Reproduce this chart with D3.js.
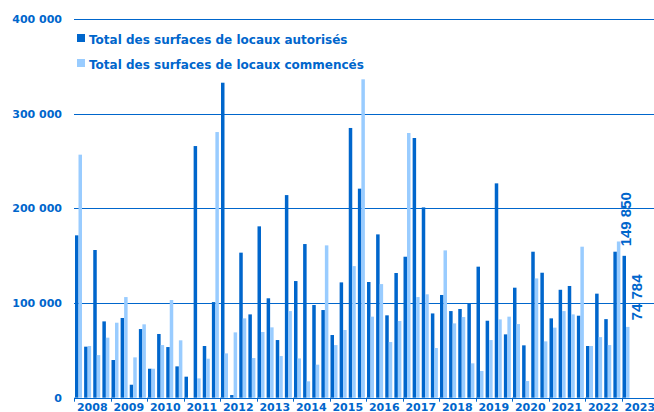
<!DOCTYPE html>
<html><head><meta charset="utf-8">
<script src="https://cdn.jsdelivr.net/npm/d3@7"></script>
<style>body{margin:0;background:#fff}svg{display:block}</style>
</head><body>
<script>
const years = ["2008","2009","2010","2011","2012","2013","2014","2015","2016","2017","2018","2019","2020","2021","2022","2023"];
const quartersPerYear = ["T1","T2","T3","T4"];
const autorises = [
 171500, 53900, 156000, 80600,
 39800, 84200, 13700, 72500,
 30600, 67300, 53500, 33100,
 22200, 265800, 54600, 101000,
 332700, 2800, 153200, 88000,
 181000, 105000, 60900, 214000,
 123200, 162300, 97900, 92600,
 66200, 121800, 284900, 220800,
 122200, 172500, 87000, 131700,
 148900, 274300, 201000, 89000,
 108500, 91500, 93700, 99600,
 138400, 81300, 226400, 66900,
 116200, 55300, 154200, 132000,
 83800, 114000, 118000, 86600,
 54600, 109900, 83000, 154200,
 149850];
const commences = [
 256700, 54600, 45000, 63400,
 79200, 106300, 42600, 77500,
 30600, 55600, 103200, 60600,
 0, 20400, 41200, 280600,
 46800, 69000, 83800, 41900,
 69400, 74300, 44000, 91500,
 41500, 17300, 34900, 160900,
 55600, 71500, 139000, 336300,
 85600, 120000, 58800, 81000,
 279600, 106300, 109200, 52500,
 155600, 78500, 85200, 36300,
 28200, 60900, 82700, 85600,
 77800, 17600, 126000, 59500,
 74000, 91500, 88000, 159500,
 54600, 64000, 55600, 165000,
 74784];
const yTicks = [0, 100000, 200000, 300000, 400000];
const seriesNames = ["Total des surfaces de locaux autorisés", "Total des surfaces de locaux commencés"];
const seriesKeys = ["aut", "com"];
const colors = {aut: "#0066CC", com: "#99CCFF"};
const textColor = "#0066CC";

const W = 654, H = 412;
const left = 74, right = 658, y0 = 397.7, yTop = 19;

const slots = [];
years.forEach(y => quartersPerYear.forEach(q => slots.push(y + q)));
const data = autorises.map((v, i) => ({slot: slots[i], aut: v, com: commences[i]}));

const x = d3.scaleBand().domain(slots).range([left, right]).padding(0);
const xi = d3.scaleBand().domain(seriesKeys).range([1, 8]).padding(0);
const y = d3.scaleLinear().domain([0, 400000]).range([y0, yTop]);
const fmt = d3.formatLocale({decimal: ",", thousands: " ", grouping: [3], currency: ["", " €"]}).format(",d");

const svg = d3.select("body").append("svg").attr("width", W).attr("height", H)
  .style("font-family", "'DejaVu Sans', sans-serif").style("font-weight", "bold");

// grid
svg.append("g").selectAll("line").data(yTicks).join("line")
  .attr("x1", left).attr("x2", W).attr("y1", d => Math.round(y(d)) + 0.5).attr("y2", d => Math.round(y(d)) + 0.5)
  .attr("stroke", "#0066CC").attr("stroke-width", 1);

// y labels
svg.append("g").selectAll("text").data(yTicks).join("text")
  .attr("x", 62).attr("y", d => y(d)).attr("dy", "0.35em").attr("text-anchor", "end")
  .attr("font-size", 11).attr("fill", textColor).text(d => fmt(d));

// bars
const g = svg.append("g");
g.selectAll("g").data(data).join("g")
  .attr("transform", d => `translate(${x(d.slot)},0)`)
  .selectAll("rect").data(d => seriesKeys.map(k => ({k, v: d[k]}))).join("rect")
  .attr("x", d => xi(d.k)).attr("width", xi.bandwidth())
  .attr("y", d => y(d.v)).attr("height", d => y0 - y(d.v))
  .attr("fill", d => colors[d.k]);

// x axis ticks at year boundaries
const yearStarts = years.map(yr => x(yr + "T1"));
svg.append("g").selectAll("line").data(yearStarts).join("line")
  .attr("x1", d => Math.round(d) + 0.5).attr("x2", d => Math.round(d) + 0.5)
  .attr("y1", y0).attr("y2", y0 + 4).attr("stroke", "#0066CC");
svg.append("g").selectAll("text").data(years).join("text")
  .attr("x", yr => x(yr + "T1") + 2 * x.bandwidth()).attr("y", 410.5)
  .attr("text-anchor", "middle").attr("font-size", 11).attr("fill", textColor).text(d => d);

// value labels on last quarter
const last = data[data.length - 1];
const lx = x(last.slot);
svg.append("text")
  .attr("transform", `translate(${lx + xi("aut") + xi.bandwidth() / 2 + 7},${y(last.aut) - 9.5}) rotate(-90)`)
  .attr("font-family", "'Liberation Sans', Arial, sans-serif").attr("font-size", 15)
  .attr("fill", textColor).text(fmt(last.aut));
svg.append("text")
  .attr("transform", `translate(${lx + xi("com") + xi.bandwidth() / 2 + 14.5},${y(last.com) - 6.5}) rotate(-90)`)
  .attr("font-family", "'Liberation Sans', Arial, sans-serif").attr("font-size", 15)
  .attr("fill", textColor).text(fmt(last.com));

// legend
const leg = svg.append("g");
seriesKeys.forEach((k, i) => {
  const ly = 38 + i * 25;
  leg.append("rect").attr("x", 77).attr("y", ly - 4).attr("width", 8).attr("height", 8).attr("fill", colors[k]);
  leg.append("text").attr("x", 89).attr("y", ly + 5.5).attr("font-size", 12).attr("fill", textColor).text(seriesNames[i]);
});
</script>
</body></html>
